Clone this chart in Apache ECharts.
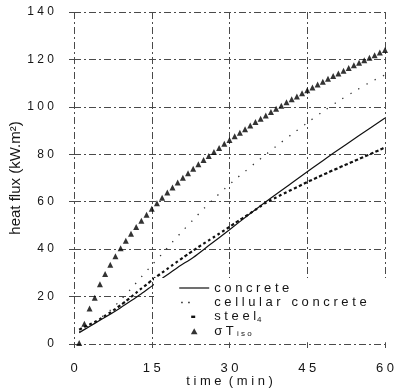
<!DOCTYPE html>
<html><head><meta charset="utf-8">
<script src="https://cdn.jsdelivr.net/npm/echarts@6/dist/echarts.min.js"></script>
<style>html,body{margin:0;padding:0;background:#fff}#c{width:394px;height:391px}</style>
</head><body><div id="c"></div>
<script>
const xTicks = [0, 15, 30, 45, 60];
const yTicks = [0, 20, 40, 60, 80, 100, 120, 140];
const seriesNames = ['concrete', 'cellular concrete', 'steel', 'sigmaT'];

const minutes = [1,2,3,4,5,6,7,8,9,10,11,12,13,14,15,16,17,18,19,20,21,22,23,24,25,26,27,28,29,30,31,32,33,34,35,36,37,38,39,40,41,42,43,44,45,46,47,48,49,50,51,52,53,54,55,56,57,58,59,60];

const isoFlux = [0.4,8.5,15.0,19.5,25.2,29.5,33.4,37.0,40.4,43.5,46.5,49.3,52.0,54.5,57.0,59.4,61.7,63.9,66.0,68.1,70.1,72.0,73.9,75.8,77.6,79.3,81.0,82.7,84.4,86.0,87.6,89.1,90.6,92.1,93.6,95.0,96.4,97.8,99.2,100.5,101.9,103.2,104.4,105.7,107.0,108.2,109.4,110.6,111.8,113.0,114.1,115.2,116.4,117.5,118.6,119.7,120.7,121.8,122.9,124.0];

const steelFlux = [6.0,7.2,8.2,9.3,10.5,11.9,13.3,14.8,16.4,18.0,19.8,21.6,23.4,25.1,26.8,28.5,30.1,31.7,33.3,34.8,36.4,37.9,39.4,40.9,42.3,43.7,45.1,46.5,47.9,49.4,50.9,52.3,53.7,55.1,56.6,58.1,59.5,60.7,61.8,62.9,64.0,65.1,66.1,67.2,68.3,69.3,70.3,71.3,72.3,73.3,74.2,75.2,76.1,77.1,78.0,79.0,79.9,80.9,81.9,82.9];

const concreteTimes = [1,3,5,7,9,11,13,15,17,20,23,26,30,34,38,42,46,50,55,60];
const concreteFlux = [4.8,7.4,10.0,12.6,15.3,18.2,21.2,24.4,27.6,32.3,36.5,41.5,48.2,55.0,61.6,67.9,74.2,80.4,87.9,95.3];

const cellularTimes = [1,3,5,7,9,11,13,15,17,19,21,23,25,27,29,31,33,35,37,39,42,45,48,51,54,57,60];
const cellularFlux = [5.0,7.8,10.8,14.2,18.6,23.3,28.3,33.2,38.0,43.0,47.8,52.4,57.0,61.3,65.3,69.2,72.8,76.4,79.9,83.4,88.4,93.3,98.0,102.4,106.4,110.2,113.5];

function pairs(xs, ys){ return xs.map((x,i)=>[x, ys[i]]); }
function spaced(v, sep){ return String(v).split('').join(sep); }

const FONT = 'Liberation Sans, Arial, sans-serif';
const INK = '#151515';
const gridLine = { show: true, lineStyle: { color: '#4a4a4a', width: 1, type: [7,3,2,3] } };

const chart = echarts.init(document.getElementById('c'), null, { renderer: 'canvas' });
chart.setOption({
  animation: false,
  backgroundColor: '#fff',
  grid: { left: 74, right: 9, top: 12, bottom: 47, containLabel: false, outerBoundsMode: 'none' },
  xAxis: {
    type: 'value', min: xTicks[0], max: xTicks[xTicks.length-1], interval: 15,
    axisLine: { show: false },
    axisTick: { show: true, length: 4, lineStyle: { color: '#4a4a4a' } },
    splitLine: gridLine,
    axisLabel: { margin: 18, color: INK, fontFamily: FONT, fontSize: 13,
      formatter: v => spaced(v, ' ') },
    name: 't i m e  ( m i n )', nameLocation: 'middle', nameGap: 31, nameMoveOverlap: false,
    nameTextStyle: { color: INK, fontFamily: FONT, fontSize: 13 }
  },
  yAxis: {
    type: 'value', min: yTicks[0], max: yTicks[yTicks.length-1], interval: 20,
    axisLine: { show: false },
    axisTick: { show: true, length: 5, lineStyle: { color: '#4a4a4a' } },
    splitLine: gridLine,
    axisLabel: { margin: 20, color: INK, fontFamily: FONT, fontSize: 12,
      formatter: v => spaced(v, ' ') },
    name: 'heat flux (kW.m²)', nameLocation: 'middle', nameGap: 51, nameMoveOverlap: false,
    nameTextStyle: { color: INK, fontFamily: FONT, fontSize: 15 }
  },
  legend: {
    orient: 'vertical', left: 154, top: 278,
    padding: [3, 28, 4, 24], backgroundColor: '#fff',
    itemWidth: 30, itemHeight: 6, itemGap: 0.4,
    textStyle: { fontFamily: FONT, fontSize: 13, color: INK, lineHeight: 14,
      rich: { n: { fontFamily: FONT, fontSize: 13, color: INK, lineHeight: 14 },
              sub: { fontFamily: FONT, fontSize: 8, color: INK, verticalAlign: 'bottom', lineHeight: 14, padding: [6,0,0,1] } } },
    formatter: name => {
      if (name === seriesNames[0]) return '{n|c o n c r e t e}';
      if (name === seriesNames[1]) return '{n|c e l l u l a r   c o n c r e t e}';
      if (name === seriesNames[2]) return '{n|s t e e l}{sub|4}';
      return '{n|σ T}{sub| i s o}';
    },
    data: [
      { name: seriesNames[0], itemStyle: { opacity: 0 }, lineStyle: { width: 1.2, color: '#111', type: 'solid' } },
      { name: seriesNames[1], itemStyle: { opacity: 0 }, lineStyle: { type: [1.5, 5.5, 1.5, 40], dashOffset: -2, width: 1.5, color: '#222' } },
      { name: seriesNames[2], itemStyle: { opacity: 0 }, lineStyle: { type: [4, 40], dashOffset: -12, width: 2.4, color: '#111' } },
      { name: seriesNames[3], icon: 'path://M0,10 L5.5,0 L11,10 Z' }
    ]
  },
  series: [
    { name: seriesNames[0], type: 'line', data: pairs(concreteTimes, concreteFlux), smooth: 0.3,
      symbol: 'none', lineStyle: { color: '#111', width: 1.2 }, itemStyle: { color: '#111' }, z: 3 },
    { name: seriesNames[1], type: 'line', data: pairs(cellularTimes, cellularFlux), smooth: 0.3,
      symbol: 'none', lineStyle: { color: '#333', width: 1.3, type: [1.3, 8] }, itemStyle: { color: '#333' }, z: 3 },
    { name: seriesNames[2], type: 'line', data: pairs(minutes, steelFlux), smooth: 0.2,
      symbol: 'none', lineStyle: { color: '#111', width: 2.2, type: [3, 2.6] }, itemStyle: { color: '#111' }, z: 3 },
    { name: seriesNames[3], type: 'scatter', data: pairs(minutes, isoFlux),
      symbol: 'triangle', symbolSize: [6, 6], itemStyle: { color: '#000' }, z: 4 }
  ]
});
</script></body></html>
